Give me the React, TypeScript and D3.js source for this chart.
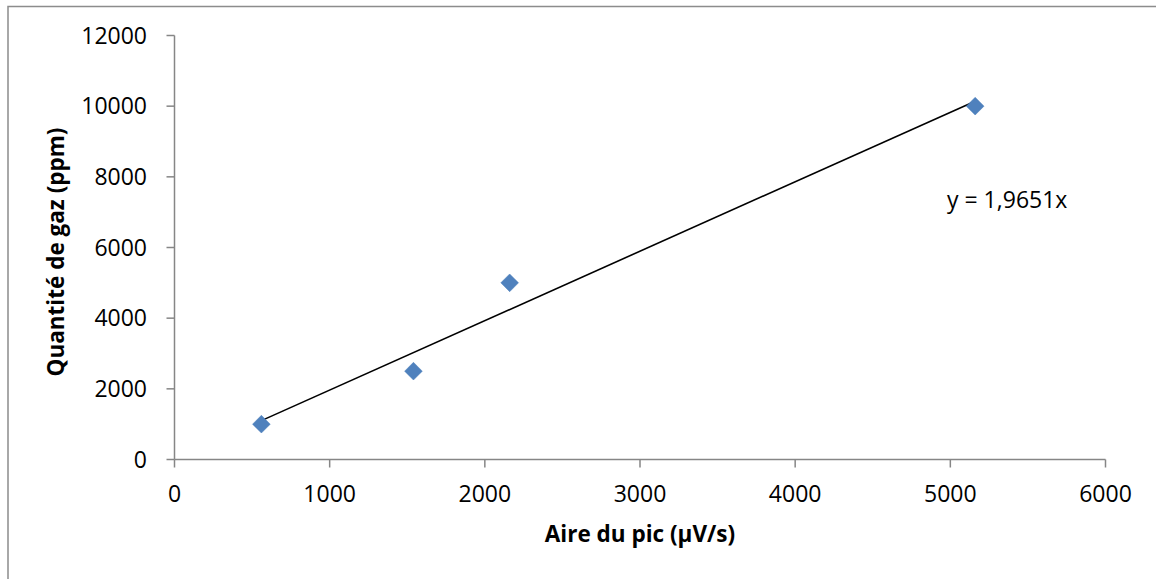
import React from "react";
import * as d3 from "d3";

const areas = [560, 1540, 2160, 5160];
const quantities = [1000, 2500, 5000, 10000];
const xTicks = [0, 1000, 2000, 3000, 4000, 5000, 6000];
const yTicks = [0, 2000, 4000, 6000, 8000, 10000, 12000];
const slope = 1.9651;
const equationLabel = "y = 1,9651x";
const xTitle = "Aire du pic (µV/s)";
const yTitle = "Quantité de gaz (ppm)";

const W = 1156;
const H = 579;
const FONT = "'Open Sans', 'Liberation Sans', sans-serif";
const AXIS = "#868686";

export default function App() {
  const x = d3.scaleLinear().domain([0, 6000]).range([174.5, 1105.5]);
  const y = d3.scaleLinear().domain([0, 12000]).range([459.5, 35.5]);
  const xMin = d3.min(areas) as number;
  const xMax = d3.max(areas) as number;
  const trend = d3.line<number>().x((d) => x(d)).y((d) => y(slope * d));
  const diamond = d3.symbol().type(d3.symbolDiamond2).size(200)() as string;

  return (
    <svg
      width={W}
      height={H}
      style={{ position: "absolute", left: 0, top: 0, background: "#fff" }}
      fontFamily={FONT}
    >
      <rect x={8} y={6.5} width={1200} height={600} fill="#fff" stroke="#8c8c8c" strokeWidth={1.5} />
      {/* axes */}
      <line x1={x(0)} x2={x(6000)} y1={y(0)} y2={y(0)} stroke={AXIS} strokeWidth={1.5} />
      <line x1={x(0)} x2={x(0)} y1={y(12000)} y2={y(0)} stroke={AXIS} strokeWidth={1.5} />
      {yTicks.map((t) => (
        <g key={"y" + t}>
          <line x1={x(0) - 8} x2={x(0)} y1={y(t)} y2={y(t)} stroke={AXIS} strokeWidth={1.5} />
          <text x={147} y={y(t)} dy="0.36em" textAnchor="end" fontSize={23} fill="#000">
            {t}
          </text>
        </g>
      ))}
      {xTicks.map((t) => (
        <g key={"x" + t}>
          <line x1={x(t)} x2={x(t)} y1={y(0)} y2={y(0) + 8} stroke={AXIS} strokeWidth={1.5} />
          <text x={x(t)} y={502} textAnchor="middle" fontSize={23} fill="#000">
            {t}
          </text>
        </g>
      ))}
      {/* trendline */}
      <path d={trend([xMin, xMax]) as string} stroke="#000" strokeWidth={1.6} fill="none" />
      {/* points */}
      {areas.map((a, i) => (
        <path
          key={"p" + i}
          d={diamond}
          transform={`translate(${x(a)},${y(quantities[i])})`}
          fill="#4F81BD"
          stroke="#4A7EBB"
          strokeWidth={0.5}
        />
      ))}
      <text x={947} y={208} fontSize={23} fill="#000">
        {equationLabel}
      </text>
      <text x={640} y={542} textAnchor="middle" fontSize={22.5} fontWeight="bold" fill="#000">
        {xTitle}
      </text>
      <text
        transform={`translate(64,252) rotate(-90)`}
        textAnchor="middle"
        fontSize={22.5}
        fontWeight="bold"
        fill="#000"
      >
        {yTitle}
      </text>
    </svg>
  );
}
